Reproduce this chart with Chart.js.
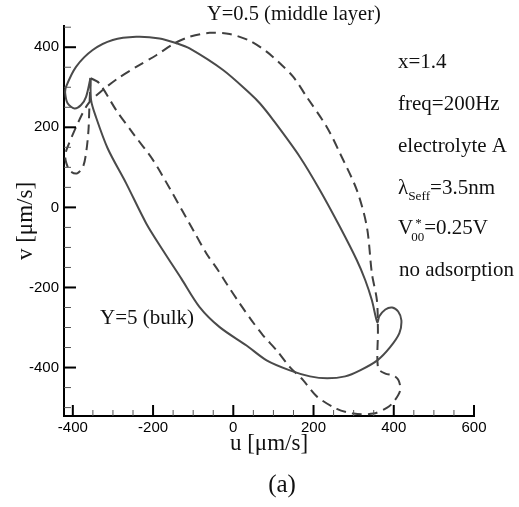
<!DOCTYPE html>
<html><head><meta charset="utf-8">
<script src="https://cdn.jsdelivr.net/npm/chart.js@4"></script>
<style>html,body{margin:0;padding:0;background:#fff}</style>
</head><body>
<canvas id="c" width="519" height="507"></canvas>
<script>
// Axis ranges and ticks
const X_RANGE = [-422, 600];
const Y_RANGE = [-521, 453];
const X_TICKS = [-400, -200, 0, 200, 400, 600];
const Y_TICKS = [-400, -200, 0, 200, 400];
const X_MINOR = [-400,-350,-300,-250,-200,-150,-100,-50,0,50,100,150,200,250,300,350,400,450,500,550,600];
const Y_MINOR = [-500,-450,-400,-350,-300,-250,-200,-150,-100,-50,0,50,100,150,200,250,300,350,400,450];

// Y=5 (bulk) - solid
const bulkU = [-356,-354.5,-344,-313,-267,-217,-175.5,-129.5,-84,-34,33,83,141,191,234,279,316,359,391,414,419,411,396,379,364,359,345.5,329,308,266,216,166,99.5,66,41,-25.5,-109,-142,-184,-242,-300.5,-350.5,-392,-417,-419,-413,-396,-379.5,-367,-356];
const bulkV = [323,268,230.5,147,60,-40,-107,-178,-249,-299,-345,-382,-407,-422,-427,-422,-407,-382,-349,-314,-282,-260,-250,-255,-272,-287,-232,-182,-132,-49,43,126,218,260,285,343,397,410,422,426,418,393,351,301,285,260,247,255.5,276,323];

// Y=0.5 (middle layer) - dashed
const midU = [-356,-334,-292,-250,-200,-156,-97.5,-67,-38,-17,16,45.5,74.5,108,141,174.5,208,258,299.5,349.5,383.5,399.5,416,412,399.5,379,361,360.5,358,345.5,333,308,266,233,183,149.5,116,83,41,-9,-59,-109,-146,-192,-242,-288,-325.5,-361,-384,-413,-419,-416,-406,-389,-374,-366,-361,-359,-357,-356];
const midV = [323,310,243,185,118,43,-61,-115,-157,-190,-240,-282,-320,-357,-399,-432,-472,-503,-515,-515,-500,-486,-457,-432,-420,-415,-402,-307,-232,-165,-49,43,135,201,276,326,360,389,416,433,436,426,410,380,351,322,293,260,218,151,130,110,90,85,103,143,193,243,293,323];

const pts = (us, vs) => us.map((u, i) => ({x: u, y: vs[i]}));

const tickPlugin = {
  id: 'innerTicks',
  afterDraw(chart) {
    const {ctx, scales: {x, y}, chartArea: a} = chart;
    ctx.save();
    X_MINOR.forEach(v => {
      const px = x.getPixelForValue(v);
      const major = X_TICKS.includes(v);
      ctx.lineWidth = major ? 2 : 1;
      ctx.strokeStyle = major ? '#000' : '#555';
      ctx.beginPath();
      ctx.moveTo(px, a.bottom);
      ctx.lineTo(px, a.bottom - (major ? 11 : 6));
      ctx.stroke();
    });
    Y_MINOR.forEach(v => {
      const py = y.getPixelForValue(v);
      const major = Y_TICKS.includes(v);
      ctx.lineWidth = major ? 2 : 1;
      ctx.strokeStyle = major ? '#000' : '#555';
      ctx.beginPath();
      ctx.moveTo(a.left, py);
      ctx.lineTo(a.left + (major ? 12 : 7), py);
      ctx.stroke();
    });
    // annotations
    const serif = 'Liberation Serif';
    ctx.fillStyle = '#111';
    ctx.textBaseline = 'alphabetic';
    ctx.textAlign = 'left';
    const F = s => s + 'px "' + serif + '"';
    ctx.font = F(20.5);
    ctx.fillText('Y=0.5 (middle layer)', 207, 20);
    ctx.font = F(21);
    ctx.fillText('Y=5 (bulk)', 100, 324);
    const lx = 398;
    ctx.fillText('x=1.4', lx, 68);
    ctx.fillText('freq=200Hz', lx, 110);
    ctx.fillText('electrolyte A', lx, 152);
    // lambda_Seff
    let cx = lx;
    ctx.font = F(21);
    ctx.fillText('λ', cx, 193.5); cx += ctx.measureText('λ').width;
    ctx.font = F(13.3);
    ctx.fillText('Seff', cx, 200); cx += ctx.measureText('Seff').width;
    ctx.font = F(21);
    ctx.fillText('=3.5nm', cx, 193.5);
    // V00*
    cx = lx;
    ctx.fillText('V', cx, 234); cx += ctx.measureText('V').width - 2;
    ctx.font = F(13);
    ctx.fillText('00', cx, 241);
    ctx.fillText('*', cx + 4, 227);
    cx += ctx.measureText('00').width;
    ctx.font = F(21);
    ctx.fillText('=0.25V', cx, 234);
    ctx.fillText('no adsorption', lx + 1, 276);
    ctx.font = F(25);
    ctx.textAlign = 'center';
    ctx.fillText('(a)', 282, 492);
    ctx.restore();
  }
};

new Chart(document.getElementById('c'), {
  type: 'scatter',
  data: {
    datasets: [
      {label: 'Y=5 (bulk)', data: pts(bulkU, bulkV), showLine: true, borderColor: '#4a4a4a', borderWidth: 2, pointRadius: 0, tension: 0.3, fill: false},
      {label: 'Y=0.5 (middle layer)', data: pts(midU, midV), showLine: true, borderColor: '#404040', borderWidth: 2, borderDash: [10, 6], pointRadius: 0, tension: 0.3, fill: false}
    ]
  },
  options: {
    responsive: false, animation: false, devicePixelRatio: 1,
    layout: {padding: {top: 26, right: 45, left: 0, bottom: 0}},
    plugins: {legend: {display: false}, tooltip: {enabled: false}},
    scales: {
      x: {
        type: 'linear', min: X_RANGE[0], max: X_RANGE[1],
        afterBuildTicks: s => { s.ticks = X_TICKS.map(v => ({value: v})); },
        afterFit: s => { s.height = 91; },
        grid: {display: false, drawTicks: false, tickLength: 0},
        border: {display: true, color: '#000', width: 2},
        ticks: {color: '#000', font: {family: 'Liberation Sans', size: 15}, padding: 3, maxRotation: 0, autoSkip: false},
        title: {display: true, text: 'u [μm/s]', color: '#111', font: {family: 'Liberation Serif', size: 23}, padding: {top: 0, bottom: 49}}
      },
      y: {
        type: 'linear', min: Y_RANGE[0], max: Y_RANGE[1],
        afterBuildTicks: s => { s.ticks = Y_TICKS.map(v => ({value: v})); },
        afterFit: s => { s.width = 64; },
        grid: {display: false, drawTicks: false, tickLength: 0},
        border: {display: true, color: '#000', width: 2},
        ticks: {color: '#000', font: {family: 'Liberation Sans', size: 15}, padding: 5, autoSkip: false},
        title: {display: true, text: 'v [μm/s]', color: '#111', font: {family: 'Liberation Serif', size: 23}, padding: {top: 12, bottom: 0}}
      }
    }
  },
  plugins: [tickPlugin]
});
</script>
</body></html>
